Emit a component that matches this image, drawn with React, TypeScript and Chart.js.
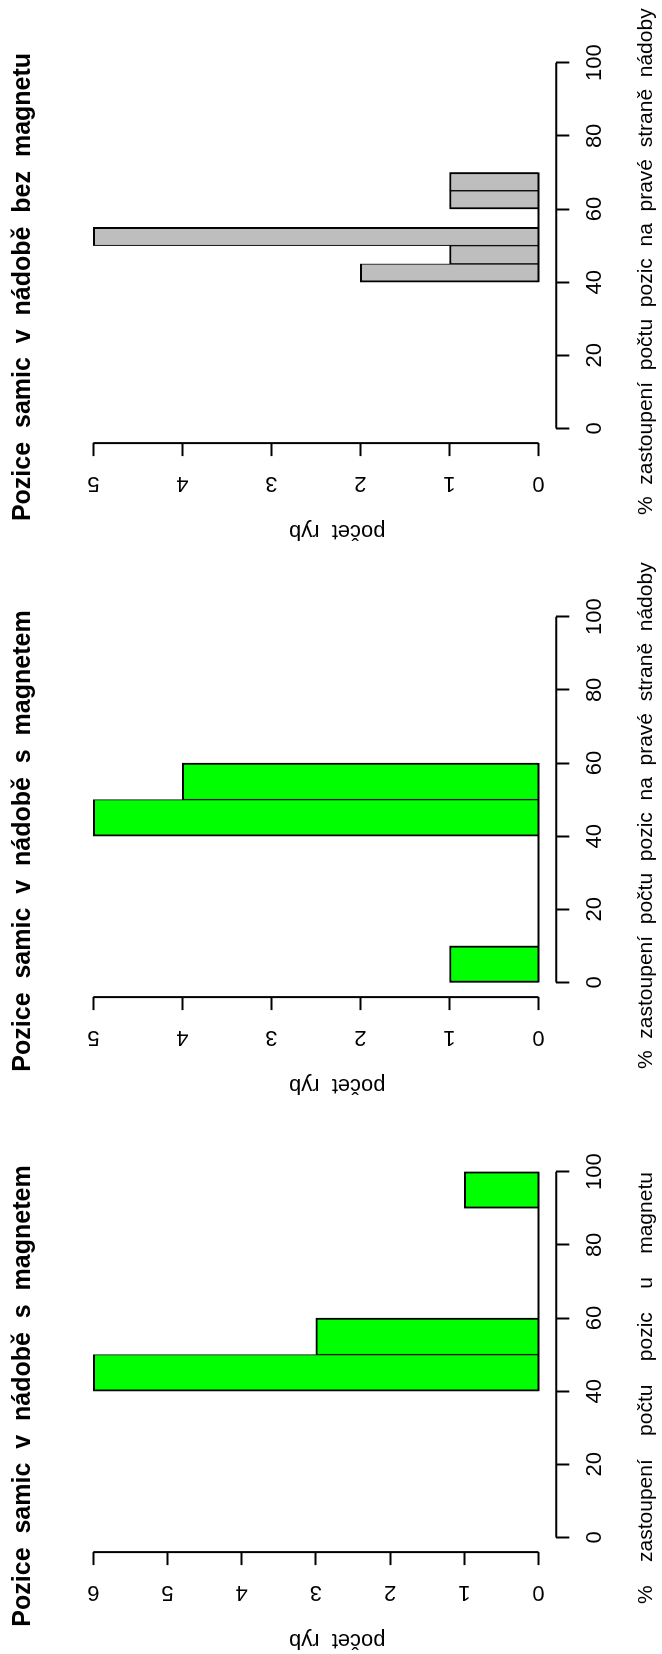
import React, { useEffect, useRef } from "react";
import { Chart, registerables } from "chart.js";

Chart.register(...registerables);

// ---------- data ----------
const positionTicks = [0, 20, 40, 60, 80, 100];

const breaksA = [40, 50, 60, 70, 80, 90, 100];
const countsA = [6, 3, 0, 0, 0, 1];
const countTicksA = [0, 1, 2, 3, 4, 5, 6];

const breaksB = [0, 10, 20, 30, 40, 50, 60];
const countsB = [1, 0, 0, 0, 5, 4];
const countTicksB = [0, 1, 2, 3, 4, 5];

const breaksC = [40, 45, 50, 55, 60, 65, 70];
const countsC = [2, 1, 5, 0, 1, 1];
const countTicksC = [0, 1, 2, 3, 4, 5];

const titleA = "Pozice  samic  v  nádobě  s  magnetem";
const titleB = "Pozice  samic  v  nádobě  s  magnetem";
const titleC = "Pozice  samic  v  nádobě  bez  magnetu";

const xTitleA = "%    zastoupení    počtu    pozic    u    magnetu";
const xTitleB = "%  zastoupení  počtu  pozic  na  pravé  straně  nádoby";
const xTitleC = "%  zastoupení  počtu  pozic  na  pravé  straně  nádoby";
const yTitle = "počet  ryb" + " ".repeat(7);

const fillGreen = "#00FF00";
const fillGrey = "#BEBEBE";

// ---------- layout constants ----------
const FONT = "'Liberation Sans', Arial, Helvetica, sans-serif";
const CW = 554; // canvas width (original orientation)
const CH = 662; // canvas height
const PAD_LEFT = 19.1;
const CHART_LEFT = 101.9;
const CHART_RIGHT = 496.9;
const CHART_TOP = 75.5;
const CHART_BOTTOM = 556.3;
const PANEL_OFFSETS = [0, 555, 1109];
const XTITLE_START = [50, 30, 30];

const axisLines = {
  id: "axisLines",
  afterDraw(chart: any) {
    const { ctx, chartArea } = chart;
    const x = chart.scales.x;
    const y = chart.scales.y;
    const xt = x.ticks;
    const yt = y.ticks;
    ctx.save();
    ctx.strokeStyle = "#000";
    ctx.lineWidth = 2;
    ctx.beginPath();
    ctx.moveTo(x.getPixelForValue(xt[0].value), chartArea.bottom);
    ctx.lineTo(x.getPixelForValue(xt[xt.length - 1].value), chartArea.bottom);
    ctx.moveTo(chartArea.left, y.getPixelForValue(yt[0].value));
    ctx.lineTo(chartArea.left, y.getPixelForValue(yt[yt.length - 1].value));
    ctx.stroke();
    ctx.restore();
  },
};

// x-axis title drawn without Chart.js's maxWidth squeeze
const xAxisTitle = {
  id: "xAxisTitle",
  afterDraw(chart: any, _args: any, opts: any) {
    const { ctx } = chart;
    const x = chart.scales.x;
    ctx.save();
    ctx.font = `${opts.size}px ${FONT}`;
    ctx.fillStyle = "#000";
    ctx.textAlign = "left";
    ctx.textBaseline = "alphabetic";
    ctx.fillText(opts.text, opts.start, x.bottom - opts.fromBottom);
    ctx.restore();
  },
};

type PanelProps = {
  left: number;
  breaks: number[];
  counts: number[];
  countTicks: number[];
  fill: string;
  title: string;
  xTitle: string;
  xTitleStart: number;
};

function Panel({ left, breaks, counts, countTicks, fill, title, xTitle, xTitleStart }: PanelProps) {
  const ref = useRef<HTMLCanvasElement | null>(null);

  useEffect(() => {
    if (!ref.current) return;
    const ymax = countTicks[countTicks.length - 1];
    const xmin = positionTicks[0];
    const xmax = positionTicks[positionTicks.length - 1];
    const xr = xmax - xmin;
    const barData = counts.map((c, i) => ({ x: (breaks[i] + breaks[i + 1]) / 2, y: c }));
    const baseData = [
      { x: breaks[0], y: 0 },
      { x: breaks[breaks.length - 1], y: 0 },
    ];
    const grid = {
      display: true,
      drawOnChartArea: false,
      drawTicks: true,
      tickLength: 13,
      tickWidth: 2,
      tickColor: "#000",
      offset: false,
    };
    const chart = new Chart(ref.current, {
      type: "bar",
      data: {
        datasets: [
          {
            type: "line",
            data: baseData,
            borderColor: "#000",
            borderWidth: 2,
            pointRadius: 0,
            order: 0,
          } as any,
          {
            type: "bar",
            data: barData,
            backgroundColor: fill,
            borderColor: "#000",
            borderWidth: (c: any) => {
              const i = c.dataIndex;
              const l = i > 0 && counts[i - 1] > 0 ? 1 : 2;
              const r = i < counts.length - 1 && counts[i + 1] > 0 ? 1 : 2;
              return { top: 2, bottom: 0, left: l, right: r };
            },
            borderSkipped: false,
            barPercentage: 1,
            categoryPercentage: 1,
            order: 1,
          } as any,
        ],
      },
      options: {
        animation: false,
        responsive: false,
        devicePixelRatio: 1,
        events: [],
        layout: { padding: { left: PAD_LEFT, right: CW - CHART_RIGHT, top: 0, bottom: 0 } },
        plugins: {
          legend: { display: false },
          tooltip: { enabled: false },
          title: {
            display: true,
            text: title,
            color: "#000",
            font: { family: FONT, size: 25, weight: "bold", lineHeight: 1.2 },
            padding: { top: 8.3, bottom: CHART_TOP - 8.3 - 30 },
          },
          xAxisTitle: { text: xTitle, start: xTitleStart, size: 21, fromBottom: 10 },
        },
        scales: {
          x: {
            type: "linear",
            position: "bottom",
            min: xmin - 0.04 * xr,
            max: xmax + 0.04 * xr,
            offset: false,
            afterBuildTicks: (s: any) => {
              s.ticks = positionTicks.map((v) => ({ value: v }));
            },
            afterFit: (s: any) => {
              s.height = CH - CHART_BOTTOM;
            },
            border: { display: false },
            grid,
            ticks: {
              autoSkip: false,
              minRotation: 0,
              maxRotation: 0,
              padding: 12.5,
              color: "#000",
              font: { family: FONT, size: 22, lineHeight: 1.2 },
            },
            title: { display: false },
          },
          y: {
            type: "linear",
            position: "left",
            min: -0.04 * ymax,
            max: 1.04 * ymax,
            afterBuildTicks: (s: any) => {
              s.ticks = countTicks.map((v) => ({ value: v }));
            },
            afterFit: (s: any) => {
              s.width = CHART_LEFT - PAD_LEFT;
            },
            border: { display: false },
            grid,
            ticks: {
              autoSkip: false,
              minRotation: 90,
              maxRotation: 90,
              crossAlign: "center",
              padding: 20.5,
              color: "#000",
              font: { family: FONT, size: 22, lineHeight: 1.2 },
            },
            title: {
              display: true,
              text: yTitle,
              color: "#000",
              font: { family: FONT, size: 22, lineHeight: 1.2 },
              padding: { top: -18.2, bottom: 0 },
            },
          },
        },
      } as any,
      plugins: [axisLines, xAxisTitle],
    });
    return () => chart.destroy();
  }, [breaks, counts, countTicks, fill, title, xTitle, xTitleStart]);

  return (
    <canvas
      ref={ref}
      width={CW}
      height={CH}
      style={{ position: "absolute", left, top: 0, width: CW, height: CH }}
    />
  );
}

export default function App() {
  return (
    <div
      style={{
        position: "absolute",
        left: 0,
        top: 0,
        width: 662,
        height: 1654,
        overflow: "hidden",
        background: "#fff",
      }}
    >
      <div
        style={{
          position: "absolute",
          left: 0,
          top: 0,
          width: 1654,
          height: 662,
          transformOrigin: "0 0",
          transform: "translateY(1654px) rotate(-90deg)",
        }}
      >
        <Panel left={PANEL_OFFSETS[0]} breaks={breaksA} counts={countsA} countTicks={countTicksA} fill={fillGreen} title={titleA} xTitle={xTitleA} xTitleStart={XTITLE_START[0]} />
        <Panel left={PANEL_OFFSETS[1]} breaks={breaksB} counts={countsB} countTicks={countTicksB} fill={fillGreen} title={titleB} xTitle={xTitleB} xTitleStart={XTITLE_START[1]} />
        <Panel left={PANEL_OFFSETS[2]} breaks={breaksC} counts={countsC} countTicks={countTicksC} fill={fillGrey} title={titleC} xTitle={xTitleC} xTitleStart={XTITLE_START[2]} />
      </div>
    </div>
  );
}
